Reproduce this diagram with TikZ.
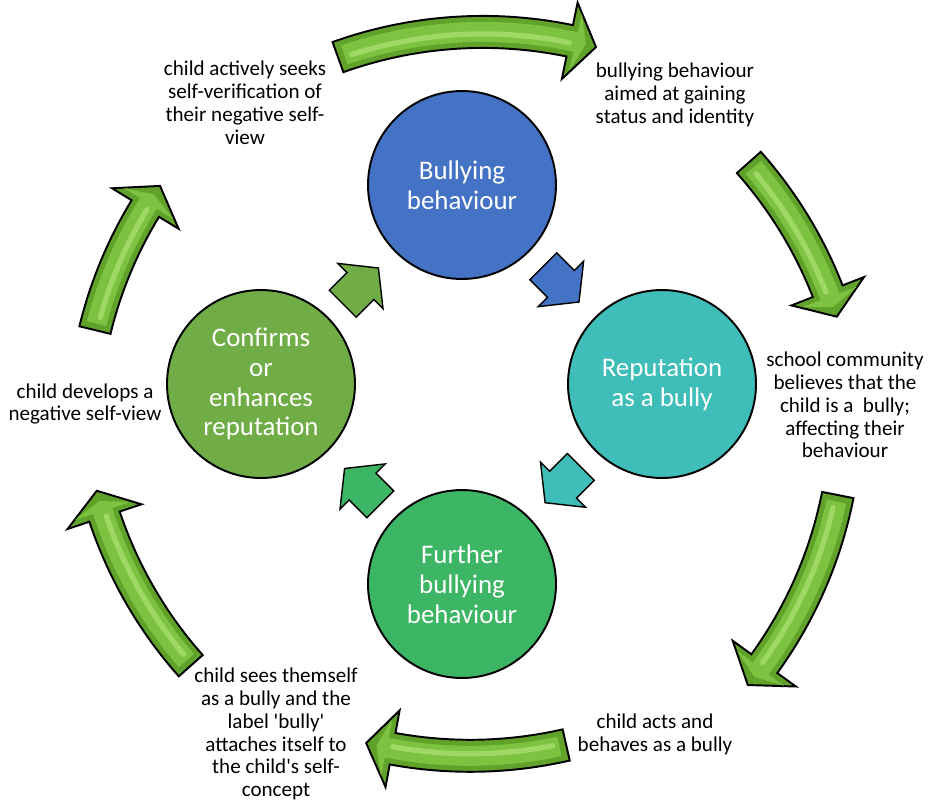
\documentclass[tikz,border=0pt]{standalone}
\usepackage{fontspec}
\setmainfont{Carlito}

\definecolor{bullyblue}{RGB}{68,114,196}
\definecolor{bullyteal}{RGB}{62,189,185}
\definecolor{bullygreen}{RGB}{60,181,100}
\definecolor{bullyolive}{RGB}{112,173,71}
\definecolor{arrowdark}{RGB}{96,162,42}
\definecolor{arrowmid}{RGB}{126,194,66}
\definecolor{arrowlight}{RGB}{160,216,102}

% curved outer arrows: radius of the centre line, half widths of body and head
\newcommand{\arcr}{430}
\newcommand{\bodyw}{16}
\newcommand{\headw}{39}
% #1,#2 centre of the arc, #3 tail angle, #4 tip angle
\newcommand{\glossyarrow}[4]{%
  \pgfmathsetmacro{\arrneck}{#4-3.6}
  \pgfmathsetmacro{\arrfrom}{#3+0.9}
  \pgfmathsetmacro{\arrshine}{#3+1.8}
  \pgfmathsetmacro{\arrfacet}{\arrneck+0.8}
  \pgfmathsetmacro{\arrpoint}{#4-1.4}
  \filldraw[fill=arrowdark, draw=black, line width=1.1pt]
    plot[domain=#3:\arrneck, samples=30] ({#1+(\arcr+\bodyw)*cos(\x)}, {#2+(\arcr+\bodyw)*sin(\x)})
    -- ({#1+(\arcr+\headw)*cos(\arrneck)}, {#2+(\arcr+\headw)*sin(\arrneck)})
    -- ({#1+\arcr*cos(#4)}, {#2+\arcr*sin(#4)})
    -- ({#1+(\arcr-\headw)*cos(\arrneck)}, {#2+(\arcr-\headw)*sin(\arrneck)})
    -- plot[domain=\arrneck:#3, samples=30] ({#1+(\arcr-\bodyw)*cos(\x)}, {#2+(\arcr-\bodyw)*sin(\x)})
    -- cycle;
  \fill[arrowmid]
    plot[domain=\arrfrom:\arrfacet, samples=30] ({#1+(\arcr+10)*cos(\x)}, {#2+(\arcr+10)*sin(\x)})
    -- ({#1+(\arcr+29)*cos(\arrfacet)}, {#2+(\arcr+29)*sin(\arrfacet)})
    -- ({#1+\arcr*cos(\arrpoint)}, {#2+\arcr*sin(\arrpoint)})
    -- ({#1+(\arcr-29)*cos(\arrfacet)}, {#2+(\arcr-29)*sin(\arrfacet)})
    -- plot[domain=\arrfacet:\arrfrom, samples=30] ({#1+(\arcr-10)*cos(\x)}, {#2+(\arcr-10)*sin(\x)})
    -- cycle;
  \draw[arrowlight, line width=3pt, line cap=round]
    plot[domain=\arrshine:\arrneck, samples=30] ({#1+(\arcr-2)*cos(\x)}, {#2+(\arcr-2)*sin(\x)});
}

\begin{document}
\begin{tikzpicture}[x=0.02cm, y=-0.02cm,
    bubble/.style={circle, draw=black, line width=1.1pt, minimum size=3.76cm,
                   inner sep=0pt, align=center, text=white,
                   font=\fontsize{15.3}{17}\selectfont},
    note/.style={align=center, font=\fontsize{12}{13}\selectfont},
    smallarrow/.style={draw=black, line width=0.8pt},
    blockarrow/.pic={\path[pic actions] (0,19) -- (25,19) -- (25,32) -- (50.5,0)
                     -- (25,-32) -- (25,-19) -- (0,-19) -- cycle;}
  ]
  \useasboundingbox (0,0) rectangle (929,802);

  % outer ring of curved arrows
  \glossyarrow{482.9}{461.9}{-109.7}{-74.75}
  \glossyarrow{427.3}{447.9}{-41.6}{-17.77}
  \glossyarrow{416}{411.5}{11.2}{39.5}
  \glossyarrow{470.2}{325.8}{77.1}{104.0}
  \glossyarrow{512.3}{380.2}{138.4}{165.1}
  \glossyarrow{512.7}{431.9}{193.7}{214.9}

  % the cycle
  \node[bubble, fill=bullyblue] (bullying) at (462,185) {Bullying\\behaviour};
  \node[bubble, fill=bullyteal] (reputation) at (662,384) {Reputation\\as a bully};
  \node[bubble, fill=bullygreen] (further) at (462,584) {Further\\bullying\\behaviour};
  \node[bubble, fill=bullyolive] (confirms) at (261,384) {Confirms\\or\\enhances\\reputation};

  \pic[smallarrow, fill=bullyblue, rotate=-45] at (543.3,266.3) {blockarrow};
  \pic[smallarrow, fill=bullyteal, rotate=-135] at (580.8,467) {blockarrow};
  \pic[smallarrow, fill=bullygreen, rotate=135] at (380.3,504.2) {blockarrow};
  \pic[smallarrow, fill=bullyolive, rotate=45] at (342.7,303.7) {blockarrow};

  % outer captions
  \node[note] (seeks) at (245,103) {child actively seeks\\self-verification of\\their negative self-\\view};
  \node[note] (status) at (675,95) {bullying behaviour\\aimed at gaining\\status and identity};
  \node[note] (school) at (845,405) {school community\\believes that the\\child is a~ bully;\\affecting their\\behaviour};
  \node[note] (acts) at (655,734) {child acts and\\behaves as a bully};
  \node[note] (label) at (276,734) {child sees themself\\as a bully and the\\label \textquotesingle bully\textquotesingle\\attaches itself to\\the child\textquotesingle s self-\\concept};
  \node[note] (develops) at (85,404) {child develops a\\negative self-view};
\end{tikzpicture}
\end{document}
